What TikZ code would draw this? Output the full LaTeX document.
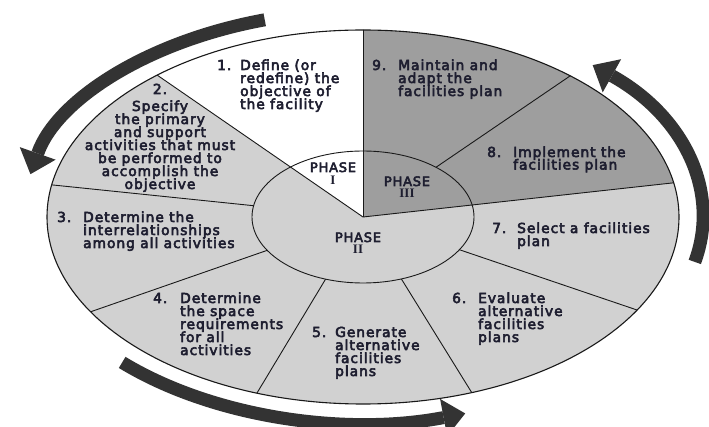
\documentclass[tikz,border=0pt]{standalone}
\usepackage{fontspec}
\usetikzlibrary{arrows.meta}
\newfontfamily\labfont{DejaVu Sans}[LetterSpace=7.0, FakeBold=4]
\newfontfamily\phfont{DejaVu Sans}[LetterSpace=6.0, FakeBold=4]
\newfontfamily\romfont{Liberation Serif}
\definecolor{lightg}{HTML}{D1D1D1}
\definecolor{darkg}{HTML}{9E9E9E}
\definecolor{arrowc}{HTML}{333333}
\definecolor{txt}{HTML}{1E1E30}
\newlength\numw \setlength\numw{25pt}
\newcommand\fl[2]{\hbox{\hbox to\numw{#1\hss}#2}}
\newcommand\nl[1]{\hbox{\hskip\numw #1}}
\newcommand\cl[1]{\hbox to 0pt{\hss#1\hss}}
\newcommand\stack[2][13pt]{\vtop{\baselineskip=#1\lineskiplimit=-\maxdimen\lineskip=0pt #2}}
\tikzset{
  lab/.style={inner sep=0pt, anchor=base west, text=txt, font=\labfont\fontsize{13.8pt}{13pt}\selectfont},
  phase/.style={inner sep=0pt, anchor=base, text=txt, font=\phfont\fontsize{13pt}{13pt}\selectfont},
  ln/.style={draw=black!90, line width=0.9pt},
  rim/.style={draw=black!90, line width=1.1pt},
  arr/.style={draw=arrowc, line width=13pt, -{Triangle[width=38pt,length=22pt,line width=0pt]}}
}
\begin{document}
\begin{tikzpicture}[x=1pt, y=1pt, yscale=-1]
\useasboundingbox (0,0) rectangle (709,427);
\coordinate (C) at (363,217);
% outer body
\fill[lightg] (C) ellipse [x radius=316, y radius=187];
\begin{scope}
  \clip (C) ellipse [x radius=316, y radius=187];
  \fill[white] (C) -- ++(-618,-426) -- (363,-209) -- cycle;
  \fill[darkg] (C) -- (363,-300) -- (1400,-300) -- ++(199,381) -- cycle;
  \draw[ln] (C) -- ++(-620,-64);
  \draw[ln] (C) -- ++(-546,190);
  \draw[ln] (C) -- ++(-212,352);
  \draw[ln] (C) -- ++(218,352);
  \draw[ln] (C) -- ++(548,186);
  \draw[ln] (C) -- ++(414,-282);
\end{scope}
% hub
\fill[lightg] (C) ellipse [x radius=111, y radius=66];
\begin{scope}
  \clip (C) ellipse [x radius=111, y radius=66];
  \fill[white] (C) -- ++(-618,-426) -- (363,-209) -- cycle;
  \fill[darkg] (C) -- (363,-300) -- (1400,-300) -- (1599,81) -- cycle;
\end{scope}
\begin{scope}
  \clip (C) ellipse [x radius=316, y radius=187];
  \draw[ln] (C) -- ++(-412,-284);
  \draw[ln] (C) -- ++(0,-400);
  \draw[ln] (C) -- ++(618,-68);
\end{scope}
\draw[ln] (C) ellipse [x radius=111, y radius=66];
\draw[rim] (C) ellipse [x radius=316, y radius=187];
% cycle arrows
\draw[arr] ([shift={(363,217)}]-106.8:340 and 206) arc[start angle=-106.8, end angle=-168, x radius=340, y radius=206];
\draw[arr] ([shift={(363,217)}]12.6:340 and 206) arc[start angle=12.6, end angle=-47.5, x radius=340, y radius=206];
\draw[arr] ([shift={(363,217)}]135.1:340 and 206) arc[start angle=135.1, end angle=72.5, x radius=340, y radius=206];
% labels
\node[lab] (l1) at (217,70) {\numw=23pt\stack{\fl{1.}{Define (or}\nl{redefine) the}\nl{objective of}\nl{the facility}}};
\node[lab, anchor=base] (l2) at (160,94) {\stack{\cl{2.}\vskip4pt\cl{Specify}\cl{the primary}\cl{and support}\cl{activities that must}\cl{be performed to}\cl{accomplish the}\cl{objective}}};
\node[lab] (l3) at (57,222) {\numw=26pt\stack{\fl{3.}{Determine the}\nl{interrelationships}\nl{among all activities}}};
\node[lab] (l4) at (153,303) {\numw=27pt\stack{\fl{4.}{Determine}\nl{the space}\nl{requirements}\nl{for all}\nl{activities}}};
\node[lab] (l5) at (312,337) {\numw=23pt\stack{\fl{5.}{Generate}\nl{alternative}\nl{facilities}\nl{plans}}};
\node[lab] (l6) at (452,303) {\numw=26pt\stack{\fl{6.}{Evaluate}\nl{alternative}\nl{facilities}\nl{plans}}};
\node[lab] (l7) at (492,233) {\numw=25pt\stack{\fl{7.}{Select a facilities}\nl{plan}}};
\node[lab] (l8) at (487,157) {\numw=26pt\stack[12.5pt]{\fl{8.}{Implement the}\nl{facilities plan}}};
\node[lab] (l9) at (372,70) {\numw=26pt\stack{\fl{9.}{Maintain and}\nl{adapt the}\nl{facilities plan}}};
\node[phase] (p1) at (333,172) {\stack[12.5pt]{\cl{PHASE}\cl{\romfont\bfseries\fontsize{13pt}{13pt}\selectfont I}}};
\node[phase] (p2) at (358,242) {\stack[12pt]{\cl{PHASE}\cl{\romfont\bfseries\fontsize{13pt}{13pt}\selectfont II}}};
\node[phase] (p3) at (407,186) {\stack[12pt]{\cl{PHASE}\cl{\romfont\bfseries\fontsize{13pt}{13pt}\selectfont III}}};
\end{tikzpicture}
\end{document}
